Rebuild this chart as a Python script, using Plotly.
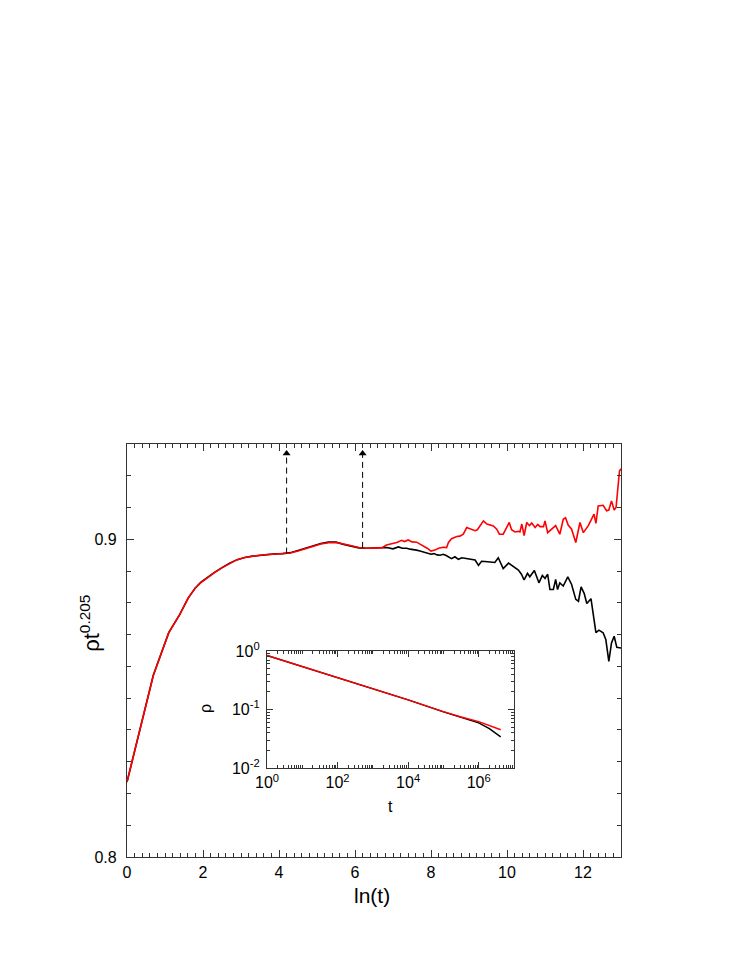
import plotly.graph_objects as go

# ---------------- main data: rho * t^0.205 vs ln(t) ----------------
lnt_common = [0.0, 0.693, 1.099, 1.386, 1.609, 1.792, 1.946, 2.079, 2.197, 2.303,
              2.5, 2.7, 2.9, 3.1, 3.3, 3.5, 3.7, 3.9, 4.1, 4.3, 4.5, 4.7, 4.9,
              5.1, 5.3, 5.5, 5.7, 5.9, 6.1, 6.3, 6.5, 6.7]
val_common_red = [0.8236, 0.8572, 0.8706, 0.8763, 0.8815, 0.8846, 0.8864, 0.8876, 0.8886, 0.8895,
                  0.8910, 0.8924, 0.8936, 0.8943, 0.8947, 0.8950, 0.8952, 0.8954, 0.8955, 0.8957,
                  0.8963, 0.8971, 0.8978, 0.8985, 0.8989, 0.8990, 0.8985, 0.8979, 0.8974, 0.8972,
                  0.8972, 0.8973]
val_common_black = [0.8236, 0.8572, 0.8706, 0.8763, 0.8815, 0.8846, 0.8865, 0.8877, 0.8887, 0.8896,
                    0.8911, 0.8925, 0.8936, 0.8943, 0.8947, 0.8950, 0.8952, 0.8954, 0.8955, 0.8958,
                    0.8965, 0.8973, 0.8980, 0.8987, 0.8991, 0.8991, 0.8984, 0.8978, 0.8973, 0.8972,
                    0.8972, 0.8972]

lnt_red_tail = [6.83, 7.0, 7.1, 7.23, 7.3, 7.4, 7.5, 7.62, 7.7, 7.8, 7.9, 8.0, 8.1, 8.2, 8.32,
                8.41, 8.46, 8.54, 8.62, 8.68, 8.76, 8.85, 8.94, 9.0, 9.07, 9.16, 9.22, 9.29,
                9.38, 9.47, 9.55, 9.64, 9.73, 9.8, 9.9, 9.97, 10.06, 10.12, 10.21, 10.3, 10.34,
                10.39, 10.45, 10.52, 10.59, 10.65, 10.74, 10.81, 10.87, 10.96, 11.0, 11.07,
                11.18, 11.28, 11.39, 11.48, 11.54, 11.61, 11.7, 11.81, 11.92, 12.01, 12.14,
                12.23, 12.29, 12.34, 12.4, 12.53, 12.62, 12.68, 12.75, 12.82, 12.87, 12.96, 13.0]
val_red_tail = [0.8982, 0.8986, 0.8990, 0.8997, 0.8993, 0.8998, 0.8992, 0.8991, 0.8986, 0.8979,
                0.8972, 0.8963, 0.8966, 0.8972, 0.8975, 0.8974, 0.8990, 0.9002, 0.9006, 0.9009,
                0.9010, 0.9016, 0.9037, 0.9034, 0.9032, 0.9027, 0.9030, 0.9042, 0.9058, 0.9048,
                0.9045, 0.9042, 0.9032, 0.9016, 0.9016, 0.9032, 0.9053, 0.9030, 0.9023, 0.9025,
                0.9023, 0.9048, 0.9012, 0.9053, 0.9043, 0.9051, 0.9037, 0.9047, 0.9040, 0.9040,
                0.9058, 0.9021, 0.9034, 0.9043, 0.9016, 0.9063, 0.9068, 0.9045, 0.9032, 0.8990,
                0.9053, 0.9021, 0.9043, 0.9068, 0.9079, 0.9050, 0.9105, 0.9107, 0.9090, 0.9092,
                0.9121, 0.9092, 0.9100, 0.9215, 0.9222]

lnt_black_tail = [6.83, 7.0, 7.14, 7.25, 7.36, 7.45, 7.54, 7.62, 7.71, 7.8, 7.89, 8.0, 8.08, 8.16,
                  8.24, 8.32, 8.4, 8.46, 8.54, 8.63, 8.72, 8.81, 8.9, 9.03, 9.16, 9.25, 9.33,
                  9.42, 9.51, 9.6, 9.68, 9.77, 9.84, 9.9, 10.04, 10.12, 10.21, 10.3, 10.38,
                  10.45, 10.54, 10.6, 10.72, 10.84, 10.93, 11.0, 11.07, 11.13, 11.22, 11.28,
                  11.33, 11.39, 11.48, 11.6, 11.7, 11.81, 11.88, 11.95, 12.03, 12.1, 12.21,
                  12.34, 12.42, 12.53, 12.6, 12.68, 12.75, 12.82, 12.89, 13.0]
val_black_tail = [0.8974, 0.8970, 0.8976, 0.8972, 0.8972, 0.8969, 0.8968, 0.8966, 0.8963, 0.8960,
                  0.8958, 0.8953, 0.8955, 0.8951, 0.8950, 0.8953, 0.8949, 0.8945, 0.8939, 0.8945,
                  0.8937, 0.8942, 0.8940, 0.8939, 0.8935, 0.8918, 0.8931, 0.8930, 0.8929, 0.8928,
                  0.8927, 0.8942, 0.8925, 0.8908, 0.8925, 0.8918, 0.8911, 0.8903, 0.8890, 0.8872,
                  0.8893, 0.8882, 0.8902, 0.8863, 0.8886, 0.8877, 0.8890, 0.8842, 0.8842, 0.8874,
                  0.8842, 0.8863, 0.8853, 0.8882, 0.8858, 0.8811, 0.8805, 0.8850, 0.8830, 0.8798,
                  0.8813, 0.8706, 0.8714, 0.8706, 0.8685, 0.8616, 0.8674, 0.8695, 0.8660, 0.8658]

# arrows (dashed markers)
arrow_lnt = [4.2, 6.2]
arrow_base = [0.8955, 0.8973]
arrow_top = 0.9282

# ---------------- inset data: rho vs t ----------------
t_inset = [1, 10, 100, 1e3, 1e4, 1e5, 3e5, 1e6, 2e6, 4.2e6]
rho_red = [0.84, 0.543, 0.351, 0.227, 0.146, 0.092, 0.075, 0.062, 0.053, 0.045]
rho_black = [0.84, 0.543, 0.351, 0.227, 0.146, 0.091, 0.073, 0.059, 0.047, 0.034]

main_xticks = [0, 2, 4, 6, 8, 10, 12]
main_yticks = [0.8, 0.9]
inset_xtickvals = [1, 1e2, 1e4, 1e6]
inset_xticktext = ["10<sup>0</sup>", "10<sup>2</sup>", "10<sup>4</sup>", "10<sup>6</sup>"]
inset_ytickvals = [0.01, 0.1, 1]
inset_yticktext = ["10<sup>-2</sup>", "10<sup>-1</sup>", "10<sup>0</sup>"]

FONT = "Liberation Sans, Arial, sans-serif"
AXC = "#333333"

fig = go.Figure()

fig.add_trace(go.Scatter(x=lnt_common + lnt_black_tail, y=val_common_black + val_black_tail,
                         mode="lines", line=dict(color="black", width=1.6),
                         xaxis="x", yaxis="y", showlegend=False))
fig.add_trace(go.Scatter(x=lnt_common + lnt_red_tail, y=val_common_red + val_red_tail,
                         mode="lines", line=dict(color="#ff0000", width=1.6),
                         xaxis="x", yaxis="y", showlegend=False))

for xa, yb in zip(arrow_lnt, arrow_base):
    fig.add_trace(go.Scatter(x=[xa, xa], y=[yb, arrow_top - 0.0012], mode="lines",
                             line=dict(color="black", width=1, dash="6px,4px"),
                             showlegend=False, xaxis="x", yaxis="y"))
    fig.add_trace(go.Scatter(x=[xa], y=[arrow_top - 0.0012], mode="markers",
                             marker=dict(symbol="triangle-up", size=7, color="black"),
                             showlegend=False, xaxis="x", yaxis="y"))

fig.add_trace(go.Scatter(x=t_inset, y=rho_black, mode="lines",
                         line=dict(color="black", width=1.5),
                         xaxis="x2", yaxis="y2", showlegend=False))
fig.add_trace(go.Scatter(x=t_inset, y=rho_red, mode="lines",
                         line=dict(color="#ff0000", width=1.5),
                         xaxis="x2", yaxis="y2", showlegend=False))

axis_common = dict(showline=True, linecolor=AXC, linewidth=1.3, mirror="allticks",
                   ticks="inside", tickcolor=AXC, showgrid=False, zeroline=False,
                   tickfont=dict(family=FONT, size=16, color="black"))

# page body has an 8px offset; margins compensate so the plot box sits at x 127-621, y 444-857
fig.update_layout(
    width=747, height=967,
    margin=dict(l=119, r=134, t=436, b=118),
    paper_bgcolor="white", plot_bgcolor="white",
    font=dict(family=FONT, color="black"),
    xaxis=dict(axis_common, range=[0, 13], tickmode="array", tickvals=main_xticks,
               ticklen=7, tickwidth=1, ticklabelstandoff=1,
               minor=dict(ticks="inside", dtick=0.2, ticklen=4, tickcolor=AXC, showgrid=False),
               domain=[0, 1]),
    yaxis=dict(axis_common, range=[0.8, 0.93], tickmode="array", tickvals=main_yticks,
               ticktext=["0.8", "0.9"], ticklen=7, tickwidth=1, ticklabelstandoff=6,
               minor=dict(ticks="inside", dtick=0.01, tick0=0.8, ticklen=4, tickcolor=AXC,
                          showgrid=False),
               domain=[0, 1]),
    xaxis2=dict(axis_common, type="log", range=[0, 7], anchor="y2",
                domain=[0.2834, 0.7834], tickmode="array", tickvals=inset_xtickvals,
                ticktext=inset_xticktext, ticklen=6,
                tickfont=dict(family=FONT, size=16, color="black"),
                minor=dict(ticks="inside", ticklen=3, dtick="D1", tickcolor=AXC, showgrid=False)),
    yaxis2=dict(axis_common, type="log", range=[-2, 0], anchor="x2",
                domain=[0.2155, 0.4988], tickmode="array", tickvals=inset_ytickvals,
                ticktext=inset_yticktext, ticklen=6, ticklabelstandoff=3,
                tickfont=dict(family=FONT, size=16, color="black"),
                minor=dict(ticks="inside", ticklen=3, dtick="D1", tickcolor=AXC, showgrid=False)),
)

fig.add_annotation(text="ln(t)", xref="paper", yref="paper", x=(372 - 127) / 494,
                   y=(857 - 895) / 413,
                   showarrow=False, font=dict(family=FONT, size=21, color="black"),
                   xanchor="center", yanchor="middle")
fig.add_annotation(text="ρt<sup>0.205</sup>", xref="paper", yref="paper", x=-0.075, y=0.567,
                   showarrow=False, textangle=-90,
                   font=dict(family=FONT, size=22, color="black"),
                   xanchor="center", yanchor="middle")
fig.add_annotation(text="ρ", xref="paper", yref="paper", x=(205 - 127) / 494,
                   y=(857 - 709) / 413, showarrow=False, textangle=-90,
                   font=dict(family=FONT, size=16, color="black"),
                   xanchor="center", yanchor="middle")
fig.add_annotation(text="t", xref="paper", yref="paper", x=(390 - 127) / 494,
                   y=(857 - 806) / 413, showarrow=False,
                   font=dict(family=FONT, size=16, color="black"),
                   xanchor="center", yanchor="middle")

fig.write_html("out.html")
